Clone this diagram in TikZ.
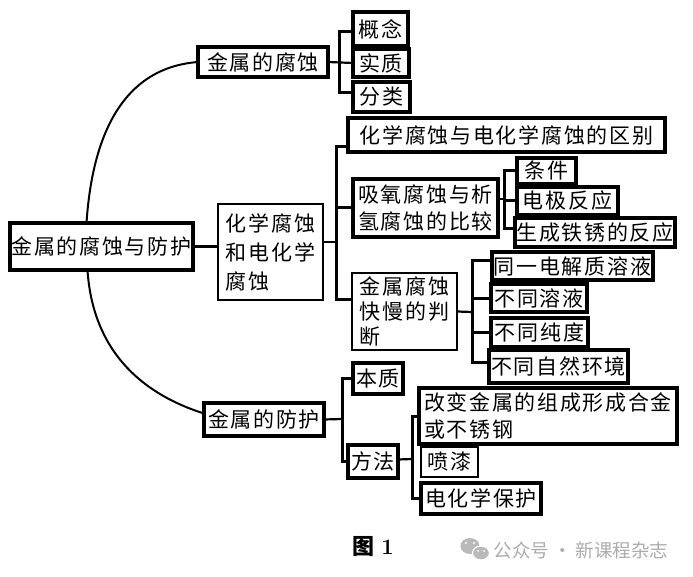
\documentclass[tikz,border=0pt]{standalone}
\usepackage{fontspec}
\newfontfamily\cjk[LetterSpace=8]{Noto Sans CJK SC}
\newfontfamily\cjkwm{Noto Sans CJK SC}
\usetikzlibrary{calc}
\newcommand\bx[7]{\node[box,#6,minimum width=#3pt-#1pt,minimum height=#4pt-#2pt] (#5) at (#1,#2) {#7};}
\begin{document}
\begin{tikzpicture}[x=1pt,y=-1pt,
  box/.style={draw,line width=3.2pt,anchor=north west,outer sep=0pt,inner xsep=1.5pt,inner ysep=0pt,
     align=left,font=\cjk\fontsize{21}{27}\selectfont},
  thinbox/.style={line width=2pt},
  conn/.style={line width=3pt},
  stub/.style={line width=2.2pt},
  curve/.style={line width=2pt}]
\fill[white] (0,0) rectangle (693,577);
\useasboundingbox (0,0) rectangle (693,577);
% nodes
\bx{10}{223}{193}{270}{root}{line width=3.6pt}{金属的腐蚀与防护}
\bx{198}{47}{328}{77}{A}{}{金属的腐蚀}
\bx{353}{12}{408}{46}{A1}{}{概念}
\bx{353}{49}{409}{77}{A2}{}{实质}
\bx{353}{82}{410}{112}{A3}{}{分类}
\bx{218}{204}{323}{300}{B}{thinbox,font=\cjk\fontsize{21}{29}\selectfont}{化学腐蚀\\和电化学\\腐蚀}
\bx{348}{118}{665}{152}{B1}{}{化学腐蚀与电化学腐蚀的区别}
\bx{353}{179}{498}{237}{B2}{}{吸氧腐蚀与析\\氢腐蚀的比较}
\bx{517}{158}{576}{184}{B21}{}{条件}
\bx{517}{187}{618}{215}{B22}{}{电极反应}
\bx{515}{218}{675}{247}{B23}{}{生成铁锈的反应}
\bx{352}{273}{457}{350}{B3}{thinbox,font=\cjk\fontsize{21}{25}\selectfont}{金属腐蚀\\快慢的判\\断}
\bx{492}{252}{653}{280}{B31}{}{同一电解质溶液}
\bx{491}{284}{587}{312}{B32}{}{不同溶液}
\bx{491}{318}{588}{347}{B33}{}{不同纯度}
\bx{489}{350}{628}{383}{B34}{}{不同自然环境}
\bx{204}{403}{324}{436}{C}{}{金属的防护}
\bx{353}{363}{403}{394}{C1}{}{本质}
\bx{348}{445}{398}{478}{C2}{}{方法}
\bx{419}{388}{677}{444}{C21}{}{改变金属的组成形成合金\\或不锈钢}
\bx{421}{447}{478}{477}{C22}{line width=2.6pt}{喷漆}
\bx{421}{483}{541}{514}{C23}{}{电化学保护}
% curves from the root
\draw[curve] ([xshift=-15pt]root.north) .. controls (92,140) and (120,68) .. (A.west);
\draw[curve] ([xshift=-14pt]root.south) .. controls (92,340) and (130,390) .. ([yshift=6pt]C.west);
\draw[stub] (root.east) -- (root.east -| B.west);
% branch A
\coordinate (ba) at (339,62);
\draw[stub] (A.east) -- (A2.west);
\draw[conn] ([yshift=-3pt]A1.west) -| (ba) |- ([yshift=4pt]A3.west);
% branch B
\coordinate (bb) at (336,242);
\draw[stub] ([yshift=10pt]B.east) -- (bb);
\draw[conn] ([yshift=-12pt]B1.west) -| (bb) |- ([yshift=12pt]B3.west);
\draw[conn] (B2.west) -- (B2.west -| bb);
\coordinate (bc) at (504,199);
\draw[stub] ([yshift=9pt]B2.east) -- (bc);
\draw[conn] (B21.west) -| (bc) |- ([yshift=4pt]B23.west);
\draw[conn] (B22.west) -- (B22.west -| bc);
\coordinate (bd) at (472,312);
\draw[stub] (B3.east) -- (bd);
\draw[conn] ([yshift=5pt]B31.west) -| (bd) |- ([yshift=4pt]B34.west);
\draw[conn] (B32.west) -- (B32.west -| bd);
\draw[conn] (B33.west) -- (B33.west -| bd);
% branch C
\coordinate (be) at (342,419);
\draw[stub] (C.east) -- (be);
\draw[conn] (C1.west) -| (be) |- (C2.west);
\coordinate (bf) at (412,459);
\draw[stub] ([yshift=2pt]C2.east) -- (bf);
\draw[conn] (C21.west) -| (bf) |- (C23.west);
% caption
\node[font=\fontsize{22}{22}\selectfont] (cap) at (373,547) {{\cjkwm\bfseries 图}\hspace{7pt}\textbf{1}};
% watermark
\fill[gray!55] (470,546) ellipse (9.5pt and 8pt);
\fill[gray!55,draw=white,line width=1.2pt] (481,553) ellipse (8.5pt and 7pt);
\fill[white] (466,543) circle (1.2pt) (474,543) circle (1.2pt) (478,551) circle (1pt) (484,551) circle (1pt);
\node[anchor=west,text=gray!65,font=\cjkwm\fontsize{18.5}{18.5}\selectfont] (wm) at (490,550) {公众号 · 新课程杂志};
\end{tikzpicture}
\end{document}
